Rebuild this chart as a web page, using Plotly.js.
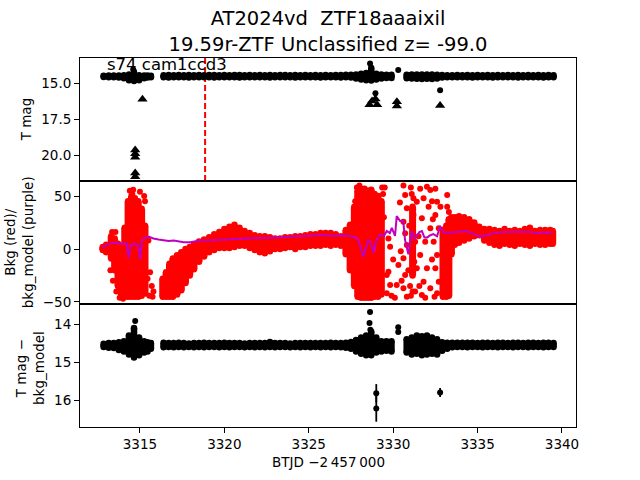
<!DOCTYPE html>
<html><head><meta charset="utf-8">
<script src="https://cdn.plot.ly/plotly-3.0.1.min.js"></script>
<style>html,body{margin:0;padding:0;background:#fff}#plot{width:640px;height:480px}</style>
</head><body><div id="plot"></div>
<script>
const titleLine1 = 'AT2024vd\u00a0 ZTF18aaaixil';
const titleLine2 = '19.59r-ZTF Unclassified z= -99.0';
const ccdLabel = 's74 cam1ccd3';
const yTitleTop = 'T mag';
const yTitleMid = 'Bkg (red)/<br>bkg_model (purple)';
const yTitleBot = 'T mag \u2212<br>bkg_model';
const xTitle = 'BTJD \u22122\u2009457\u2009000';
const discoveryTime = 3318.86;
const xTicks = [3315, 3320, 3325, 3330, 3335, 3340];

// sampled times of the dense light-curve bands (top and bottom panels)
const bandT = [
 3312.85, 3313.15, 3313.45, 3313.75, 3314.05, 3314.35, 3314.65, 3314.95, 3315.25, 3315.45, 3315.65,
 3316.4, 3316.7, 3317.0, 3317.3, 3317.6, 3317.9, 3318.2, 3318.5, 3318.8, 3319.1,
 3319.4, 3319.7, 3320.0, 3320.3, 3320.6, 3320.9, 3321.2, 3321.5, 3321.8, 3322.1,
 3322.4, 3322.7, 3323.0, 3323.3, 3323.6, 3323.9, 3324.2, 3324.5, 3324.8, 3325.1,
 3325.4, 3325.7, 3326.0, 3326.3, 3326.6, 3326.9, 3327.2, 3327.5, 3327.8, 3328.1,
 3328.4, 3328.7, 3329.0, 3329.3, 3329.6, 3329.9, 3330.2, 3330.5, 3330.8, 3331.1,
 3331.4, 3331.7, 3332.0, 3332.3, 3332.6, 3332.9, 3333.2, 3333.5, 3333.8, 3334.1,
 3334.4, 3334.7, 3335.0, 3335.3, 3335.6, 3335.9, 3336.2, 3336.5, 3336.8, 3337.1,
 3337.4, 3337.7, 3338.0, 3338.3, 3338.6, 3338.9, 3339.2, 3339.5
];
// T mag: brightest / faintest points at each sampled time
const magTopLo = [
 14.50, 14.48, 14.48, 14.47, 14.45, 14.40, 14.30, 14.45, 14.48, 14.48, 14.50,
 14.45, 14.44, 14.45, 14.44, 14.45, 14.44, 14.45, 14.44, 14.45, 14.44,
 14.44, 14.45, 14.44, 14.45, 14.44, 14.44, 14.45, 14.44, 14.45, 14.44,
 14.45, 14.44, 14.45, 14.44, 14.44, 14.45, 14.44, 14.45, 14.44, 14.45,
 14.44, 14.45, 14.44, 14.45, 14.44, 14.44, 14.43, 14.42, 14.40, 14.36,
 14.30, 13.95, 14.35, 14.40, 14.42, 14.42, null, null, 14.42, 14.40,
 14.40, 14.40, 14.40, 14.40, 14.42, 14.44, 14.45, 14.45, 14.44, 14.45,
 14.44, 14.45, 14.44, 14.45, 14.44, 14.45, 14.44, 14.45, 14.44, 14.45,
 14.44, 14.45, 14.44, 14.45, 14.44, 14.45, 14.44, 14.45
];
const magTopHi = [
 14.58, 14.60, 14.60, 14.62, 14.66, 14.80, 14.85, 14.80, 14.66, 14.62, 14.60,
 14.60, 14.61, 14.60, 14.59, 14.60, 14.61, 14.60, 14.60, 14.59, 14.60,
 14.61, 14.60, 14.60, 14.59, 14.60, 14.61, 14.60, 14.60, 14.59, 14.60,
 14.60, 14.61, 14.60, 14.60, 14.59, 14.60, 14.61, 14.60, 14.60, 14.60,
 14.60, 14.61, 14.60, 14.59, 14.60, 14.61, 14.60, 14.62, 14.68, 14.75,
 14.80, 14.82, 14.75, 14.68, 14.64, 14.64, null, null, 14.66, 14.68,
 14.70, 14.72, 14.70, 14.72, 14.68, 14.62, 14.60, 14.60, 14.60, 14.60,
 14.60, 14.61, 14.60, 14.59, 14.60, 14.61, 14.60, 14.60, 14.59, 14.60,
 14.61, 14.60, 14.60, 14.59, 14.60, 14.61, 14.60, 14.60
];
// T mag - bkg_model
const resLo = [
 14.52, 14.50, 14.50, 14.48, 14.45, 14.30, 14.10, 14.35, 14.45, 14.48, 14.50,
 14.49, 14.50, 14.50, 14.49, 14.50, 14.51, 14.50, 14.50, 14.49, 14.50,
 14.50, 14.50, 14.49, 14.50, 14.50, 14.50, 14.51, 14.50, 14.50, 14.50,
 14.50, 14.47, 14.50, 14.50, 14.50, 14.51, 14.50, 14.50, 14.50, 14.50,
 14.50, 14.50, 14.50, 14.49, 14.50, 14.50, 14.49, 14.47, 14.42, 14.35,
 14.30, 14.20, 14.35, 14.45, 14.45, 14.45, null, null, 14.40, 14.35,
 14.30, 14.32, 14.30, 14.35, 14.40, 14.48, 14.49, 14.49, 14.49, 14.49,
 14.49, 14.49, 14.50, 14.49, 14.49, 14.50, 14.49, 14.49, 14.50, 14.49,
 14.49, 14.50, 14.49, 14.49, 14.50, 14.49, 14.49, 14.50
];
const resHi = [
 14.60, 14.62, 14.63, 14.68, 14.72, 14.80, 14.88, 14.82, 14.75, 14.72, 14.65,
 14.61, 14.60, 14.61, 14.60, 14.61, 14.60, 14.61, 14.60, 14.61, 14.60,
 14.60, 14.61, 14.60, 14.61, 14.60, 14.60, 14.61, 14.60, 14.61, 14.60,
 14.61, 14.60, 14.61, 14.60, 14.60, 14.61, 14.60, 14.61, 14.60, 14.61,
 14.60, 14.61, 14.60, 14.61, 14.60, 14.61, 14.62, 14.65, 14.72, 14.78,
 14.82, 14.82, 14.75, 14.72, 14.70, 14.72, null, null, 14.75, 14.80,
 14.78, 14.82, 14.80, 14.78, 14.80, 14.70, 14.65, 14.61, 14.60, 14.60,
 14.61, 14.60, 14.60, 14.61, 14.60, 14.60, 14.61, 14.60, 14.60, 14.61,
 14.60, 14.60, 14.61, 14.60, 14.60, 14.61, 14.60, 14.60
];
// isolated points
const topDotT = [3314.6, 3314.65, 3328.63, 3328.95, 3330.3, 3332.78];
const topDotM = [14.05, 14.2, 13.65, 15.7, 14.1, 15.5];
const limT = [3315.15, 3314.72, 3314.72, 3314.72, 3314.72, 3314.72, 3328.6, 3328.75, 3328.95, 3329.05, 3330.22, 3330.22, 3332.78];
const limM = [16.13, 19.65, 19.9, 20.15, 21.25, 21.5, 16.5, 16.25, 16.1, 16.5, 16.3, 16.6, 16.55];
const resDotT = [3314.72, 3328.63, 3328.6, 3328.65, 3330.3, 3330.3];
const resDotM = [13.92, 13.68, 13.97, 14.15, 14.08, 14.21];
const errT = [3329.0, 3329.0, 3332.78];
const errM = [15.82, 16.22, 15.8];
const errBar = [0.24, 0.35, 0.12];

// background: range of points at each sampled time
const bkgT = [
 3312.8, 3313.0, 3313.3, 3313.5, 3313.7, 3313.9, 3314.1, 3314.3, 3314.5, 3314.7, 3314.9, 3315.1, 3315.3,
 3316.35, 3316.55, 3316.75, 3316.95, 3317.2, 3317.45, 3317.7, 3317.95, 3318.2, 3318.5,
 3318.8, 3319.1, 3319.4, 3319.7, 3320.0, 3320.3, 3320.6, 3320.9, 3321.2, 3321.5,
 3321.8, 3322.1, 3322.4, 3322.7, 3323.0, 3323.3, 3323.6, 3323.9, 3324.2, 3324.5,
 3324.8, 3325.1, 3325.4, 3325.7, 3326.0, 3326.3, 3326.6, 3326.9, 3327.2, 3327.45,
 3327.7, 3327.9, 3328.1, 3328.3, 3328.5, 3328.7, 3328.9, 3329.1, 3329.3, 3331.15,
 3332.95, 3333.15, 3333.3, 3333.45, 3333.65, 3333.9, 3334.2, 3334.5, 3334.8,
 3335.1, 3335.4, 3335.7, 3336.0, 3336.3, 3336.6, 3336.9, 3337.2, 3337.5, 3337.8,
 3338.1, 3338.4, 3338.7, 3339.0, 3339.3, 3339.45
];
const bkgLo = [
 -1, -3, -9, -20, -35, -44, -45, -45, -45, -45, -45, -44, -42,
 -45, -45, -45, -45, -43, -39, -32, -25, -19, -12,
 -7, -3, -1, 1, 1, 1, 2, 3, 3, 1,
 -1, -3, -4, -2, 0, 0, 1, 2, 0, 2,
 2, 3, 3, 3, 4, 3, 4, 3, -5, -20,
 -35, -45, -46, -46, -46, -46, -45, -45, -43, -25,
 -45, -45, -44, -5, 4, 6, 8, 10, 12,
 13, 8, 6, 4, 3, 5, 4, 3, 5, 4,
 3, 5, 4, 4, 5, 5
];
const bkgHi = [
 2, 4, 12, 10, 5, 2, 20, 45, 50, 48, 45, 38, 22,
 -28, -22, -14, -9, -6, -3, 0, 2, 4, 7,
 9, 11, 14, 16, 19, 21, 23, 20, 17, 15,
 13, 12, 12, 11, 10, 10, 11, 11, 12, 12,
 13, 14, 14, 15, 15, 15, 14, 12, 18, 23,
 40, 55, 57, 57, 55, 56, 52, 50, 45, 40,
 18, 22, 28, 30, 30, 31, 30, 28, 25,
 21, 19, 19, 18, 17, 19, 17, 18, 17, 19,
 20, 17, 18, 18, 18, 17
];
const bkgScatT = [
 3313.35, 3313.55, 3313.25, 3313.4, 3313.6, 3313.8, 3314.0, 3314.4, 3314.6, 3314.55, 3315.0, 3315.25, 3315.3,
 3315.45, 3315.5, 3315.55, 3315.6, 3315.7, 3315.75, 3315.8,
 3329.5, 3329.45, 3329.62, 3329.62, 3329.72, 3329.72, 3329.82, 3329.82, 3329.9, 3330.0, 3330.1, 3330.21,
 3330.31, 3330.4, 3330.45, 3330.5, 3330.61, 3330.71, 3330.81, 3330.61, 3330.71, 3330.81, 3330.61, 3330.71,
 3330.61, 3330.81, 3330.9, 3331.4, 3331.2, 3331.3, 3331.4, 3331.3, 3331.5, 3331.55, 3331.6, 3331.6,
 3331.7, 3331.7, 3331.8, 3331.8, 3331.9, 3331.9, 3332.0, 3332.0, 3332.1, 3332.2, 3332.2, 3332.2,
 3332.3, 3332.3, 3332.35, 3332.4, 3332.45, 3332.5, 3332.5, 3332.5, 3332.6, 3332.6, 3332.6, 3332.7,
 3332.7, 3332.8, 3333.2, 3333.2, 3333.3, 3331.05, 3331.1, 3331.0, 3331.15, 3331.2, 3331.05, 3330.95, 3331.25,
 3328.0, 3327.85, 3327.75, 3329.35, 3329.4
];
const bkgScatV = [
 16, 16, -20, -30, -40, -46, -47, 55, 56, 52, 54, 50, 45,
 -28, 8, -44, -22, -35, -45, -40,
 58, 30, -24.5, -41.8, 10, -21.4, 2.2, -34, -44, -10, -46, -34,
 -15.1, 44, -2, -30, 60, 51, 38.4, 25.8, 14.8, 3.8, -8.8, -24.5,
 -37.1, -45, -20, 44.7, 32, 6.9, -18.2, -40.2, 12, -35, 57, -5.7,
 29, -43.4, 47.8, -30.8, 6.9, -46, 58.8, -18.2, 40, 55.7, 19.5, -37.1,
 45, -10, 28, 6.9, -45, 57, 32, -18.2, 44.7, -5.7, -41.8, 19.5,
 -30.8, 40, 51, 40, 35, 58, 52, -35, -40, 48, -44, 22, -12,
 60, 58, 45, 58, 52
];
// background model (purple)
const modelT = [
 3312.75, 3313.0, 3313.3, 3313.6, 3313.9, 3314.2, 3314.33, 3314.45, 3314.7, 3314.9, 3315.0, 3315.12,
 3315.3, 3315.55, 3315.8, 3316.1, 3316.4, 3316.7, 3317.0, 3317.3, 3317.6, 3318.0, 3318.5, 3319.0,
 3319.5, 3320.0, 3320.5, 3321.0, 3321.5, 3322.0, 3322.5, 3323.0, 3323.5, 3324.0, 3324.5, 3325.0,
 3325.5, 3326.0, 3326.5, 3327.0, 3327.45, 3327.84, 3328.05, 3328.23, 3328.4, 3328.53, 3328.7, 3328.83,
 3329.0, 3329.22, 3329.45, 3329.62, 3329.8, 3329.92, 3330.11, 3330.21, 3330.41, 3330.6, 3330.7, 3330.9,
 3331.1, 3331.25, 3331.4, 3331.55, 3331.7, 3331.85, 3332.0, 3332.2, 3332.38, 3332.6, 3332.78, 3332.97,
 3333.37, 3333.8, 3334.36, 3334.8, 3335.15, 3335.5, 3336.0, 3336.5, 3337.0, 3337.5, 3338.0, 3338.5,
 3339.0, 3339.45
];
const modelV = [
 1.5, 3, 5.5, 6, 5, 5.5, -8.5, 4, 5, 4, -10, 8,
 10.5, 11.5, 10, 9, 8, 7.5, 8, 7, 6.5, 6.5, 8, 8,
 8.5, 8.5, 9, 9.5, 10, 10.5, 10.5, 11, 11.5, 12, 12.3, 12.5,
 13, 13, 12.5, 13, 12.3, 10.7, 3, -7.5, 2, 9, 5, -3.5,
 8, 13.8, 12, 17, 15, 20, 12.3, 31, 26.4, 26.4, 9, -5,
 17, 10, 12.3, 16, 17, 11, 10.7, 13, 14, 12, 21.7, 15.4,
 15.4, 16, 17, 14, 11.6, 13, 15, 16, 16, 16, 16.4, 15,
 15.5, 15
];

function columns(t, lo, hi) {
  const x = [], y = [];
  for (let i = 0; i < t.length; i++) {
    if (lo[i] === null || hi[i] === null) continue;
    x.push(t[i], t[i], null);
    y.push(lo[i], hi[i], null);
  }
  return {x, y};
}

const FAM = 'DejaVu Sans';
const topBand = columns(bandT, magTopLo, magTopHi);
const resBand = columns(bandT, resLo, resHi);
const bkgBand = columns(bkgT, bkgLo, bkgHi);

const traces = [
  {x: topBand.x, y: topBand.y, xaxis: 'x', yaxis: 'y', mode: 'lines+markers',
   line: {color: '#000', width: 6.5}, marker: {color: '#000', size: 6.5}, hoverinfo: 'skip'},
  {x: topDotT, y: topDotM, xaxis: 'x', yaxis: 'y', mode: 'markers', marker: {color: '#000', size: 6}},
  {x: limT, y: limM, xaxis: 'x', yaxis: 'y', mode: 'markers', marker: {color: '#000', size: 9, symbol: 'triangle-up'}},
  {x: bkgBand.x, y: bkgBand.y, xaxis: 'x2', yaxis: 'y2', mode: 'lines+markers',
   line: {color: '#ff0000', width: 7}, marker: {color: '#ff0000', size: 6.5}, hoverinfo: 'skip'},
  {x: bkgScatT, y: bkgScatV, xaxis: 'x2', yaxis: 'y2', mode: 'markers', marker: {color: '#ff0000', size: 6}},
  {x: modelT, y: modelV, xaxis: 'x2', yaxis: 'y2', mode: 'lines', line: {color: '#bf00bf', width: 2}},
  {x: resBand.x, y: resBand.y, xaxis: 'x3', yaxis: 'y3', mode: 'lines+markers',
   line: {color: '#000', width: 6.5}, marker: {color: '#000', size: 6.5}, hoverinfo: 'skip'},
  {x: resDotT, y: resDotM, xaxis: 'x3', yaxis: 'y3', mode: 'markers', marker: {color: '#000', size: 6}},
  {x: errT, y: errM, xaxis: 'x3', yaxis: 'y3', mode: 'markers', marker: {color: '#000', size: 6},
   error_y: {type: 'data', array: errBar, visible: true, color: '#000', thickness: 1.8, width: 0}}
];

const xRange = [3311.45, 3340.83];
const xBase = {range: xRange, showline: true, mirror: true, linecolor: '#000', linewidth: 1,
  showgrid: false, zeroline: false, tickvals: xTicks, fixedrange: true};
const yBase = {showline: true, mirror: true, linecolor: '#000', linewidth: 1, showgrid: false,
  zeroline: false, ticks: 'outside', ticklen: 5, tickwidth: 1, tickcolor: '#000',
  tickfont: {family: FAM, size: 13.5, color: '#000'}};

const layout = {
  width: 640, height: 480,
  margin: {l: 80, r: 64, t: 58, b: 53},
  paper_bgcolor: '#fff', plot_bgcolor: '#fff', showlegend: false,
  font: {family: FAM, size: 13.5, color: '#000'},
  title: {text: titleLine1 + '<br>' + titleLine2, font: {family: FAM, size: 19.5, color: '#000'},
    x: 0.5, xref: 'paper', xanchor: 'center', y: 0.947, yref: 'container', yanchor: 'top'},
  xaxis: Object.assign({}, xBase, {anchor: 'y', ticks: '', showticklabels: false}),
  xaxis2: Object.assign({}, xBase, {anchor: 'y2', ticks: '', showticklabels: false}),
  xaxis3: Object.assign({}, xBase, {anchor: 'y3', ticks: 'outside', ticklen: 5, tickwidth: 1, tickcolor: '#000',
    showticklabels: true, tickfont: {family: FAM, size: 13.5, color: '#000'}}),
  yaxis: Object.assign({}, yBase, {domain: [2/3, 1], range: [21.8, 13.26], tickvals: [15, 17.5, 20], ticktext: ['15.0', '17.5', '20.0']}),
  yaxis2: Object.assign({}, yBase, {domain: [1/3, 2/3], range: [-51.9, 64.2], tickvals: [-50, 0, 50]}),
  yaxis3: Object.assign({}, yBase, {domain: [0, 1/3], range: [16.71, 13.47], tickvals: [14, 15, 16]}),
  shapes: [{type: 'line', xref: 'x', yref: 'y domain', x0: discoveryTime, x1: discoveryTime, y0: 0, y1: 1,
    layer: 'below', line: {color: '#ff0000', width: 2, dash: '6px,3px'}}],
  annotations: [
    {text: ccdLabel, xref: 'paper', yref: 'paper', x: 0.0504, y: 0.982, xanchor: 'left', yanchor: 'middle',
     showarrow: false, font: {family: FAM, size: 16.5, color: '#000'}},
    {text: yTitleTop, xref: 'paper', yref: 'paper', x: -0.11, y: 0.835, textangle: -90,
     xanchor: 'center', yanchor: 'middle', showarrow: false, font: {family: FAM, size: 13.5, color: '#000'}},
    {text: yTitleMid, xref: 'paper', yref: 'paper', x: -0.1225, y: 0.5014, textangle: -90,
     xanchor: 'center', yanchor: 'middle', showarrow: false, font: {family: FAM, size: 13.5, color: '#000'}},
    {text: yTitleBot, xref: 'paper', yref: 'paper', x: -0.1008, y: 0.16, textangle: -90,
     xanchor: 'center', yanchor: 'middle', showarrow: false, font: {family: FAM, size: 13.5, color: '#000'}},
    {text: xTitle, xref: 'paper', yref: 'paper', x: 0.5, y: -0.0962, xanchor: 'center', yanchor: 'middle',
     showarrow: false, font: {family: FAM, size: 13.5, color: '#000'}}
  ]
};

Plotly.newPlot('plot', traces, layout, {staticPlot: true, displayModeBar: false});
</script>
</body></html>
